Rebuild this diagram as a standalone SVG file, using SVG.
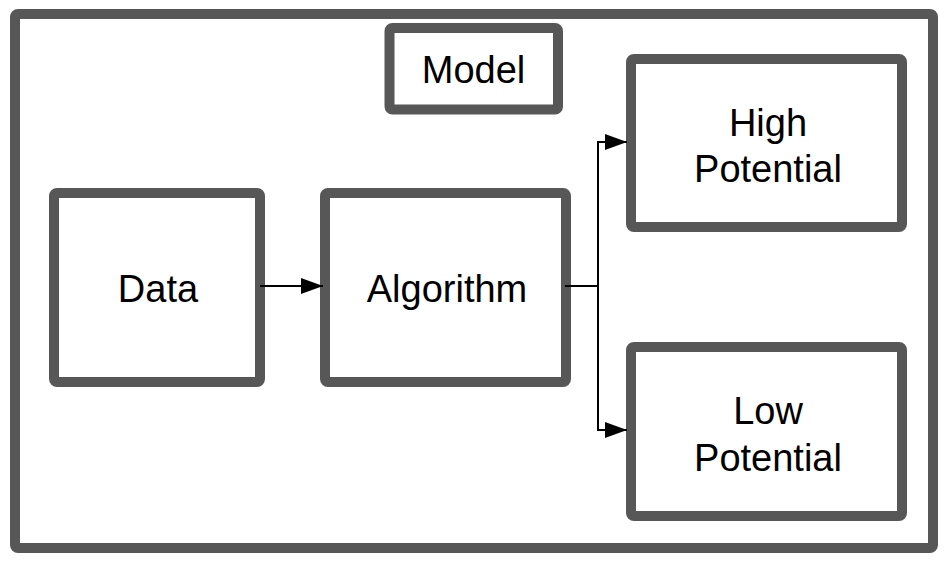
<svg xmlns="http://www.w3.org/2000/svg" width="948" height="562" viewBox="0 0 948 562">
<defs>
<style>
.box{fill:#ffffff;stroke:#575757;stroke-width:10;stroke-linejoin:round}
.lbl{font-family:"Liberation Sans",Arial,sans-serif;font-size:38px;fill:#000000;text-anchor:middle}
.edge{fill:none;stroke:#000000;stroke-width:2}
</style>
<marker id="arr" viewBox="0 0 22 16" refX="22" refY="8" markerWidth="22" markerHeight="16" markerUnits="userSpaceOnUse" orient="auto">
<path d="M0,0 L22,8 L0,16 Z" fill="#000000"/>
</marker>
</defs>
<rect width="948" height="562" fill="#ffffff"/>
<g id="frame">
<rect class="box" x="15" y="14" width="918" height="534" rx="3"/>
</g>
<g id="model">
<rect class="box" x="389.5" y="28" width="168.5" height="81.5" rx="3"/>
<text class="lbl" x="473.5" y="83">Model</text>
</g>
<g id="data">
<rect class="box" x="54" y="193" width="206" height="189" rx="3"/>
<text class="lbl" x="158" y="302">Data</text>
</g>
<g id="algorithm">
<rect class="box" x="325" y="193" width="241" height="189" rx="3"/>
<text class="lbl" x="447" y="302">Algorithm</text>
</g>
<g id="high">
<rect class="box" x="631" y="59" width="271" height="168" rx="3"/>
<text class="lbl" x="768" y="136">High</text>
<text class="lbl" x="768" y="182">Potential</text>
</g>
<g id="low">
<rect class="box" x="631" y="347" width="271" height="169" rx="3"/>
<text class="lbl" x="768" y="424">Low</text>
<text class="lbl" x="768" y="471">Potential</text>
</g>
<g id="connectors">
<path class="edge" d="M260,286 L323,286" marker-end="url(#arr)"/>
<path class="edge" d="M565,286 L598,286 L598,142 L627,142" marker-end="url(#arr)"/>
<path class="edge" d="M598,286 L598,430 L627,430" marker-end="url(#arr)"/>
</g>
</svg>
